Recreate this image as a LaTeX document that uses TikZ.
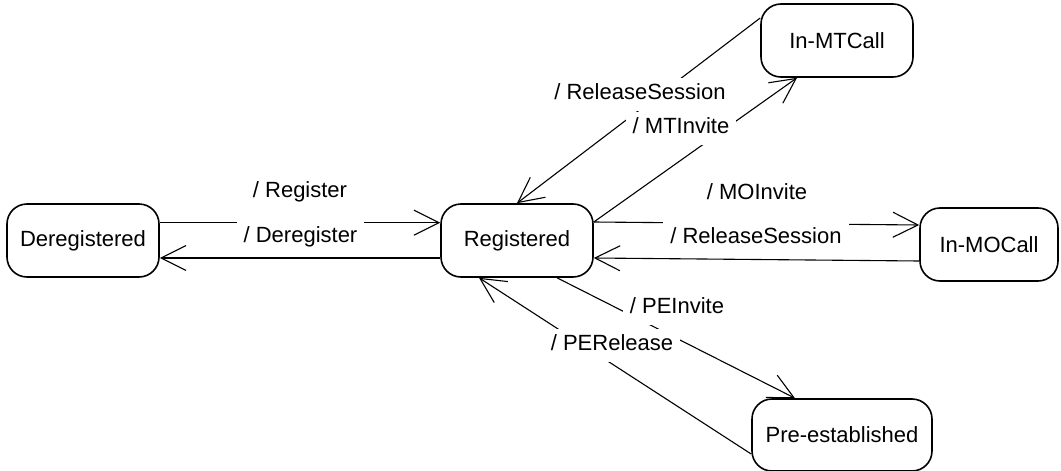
\documentclass[tikz,border=0pt]{standalone}
\usepackage{fontspec}
\setmainfont{Liberation Sans}
\usetikzlibrary{arrows.meta}
\begin{document}
\begin{tikzpicture}[x=1pt,y=-1pt,
  state/.style={draw, line width=1.6pt, rounded corners=20pt, minimum height=73pt, inner sep=0pt, font=\fontsize{22pt}{26pt}\selectfont},
  trans/.style={line width=1.1pt, -{Straight Barb[length=25pt,width=25pt]}},
  plain/.style={line width=1.1pt},
  lbl/.style={fill=white, inner xsep=7pt, inner ysep=6pt, text height=16pt, text depth=5pt, font=\fontsize{22pt}{26pt}\selectfont}]
\useasboundingbox (0,0) rectangle (1061,471);

\node[state, minimum width=152pt] (dereg) at (83,240.5) {Deregistered};
\node[state, minimum width=152pt] (reg) at (517,240.5) {Registered};
\node[state, minimum width=152pt] (mt) at (837,40.5) {In-MTCall};
\node[state, minimum width=138pt] (mo) at (989,244.5) {In-MOCall};
\node[state, minimum width=180pt, minimum height=72pt] (pe) at (842,435) {Pre-established};

% connectors
\draw[trans] ([yshift=17.8pt]dereg.east) -- ([yshift=17.8pt]reg.west);
\draw[trans] ([yshift=-17.5pt]reg.west) -- ([yshift=-17.5pt]dereg.east);
\draw[trans] ([yshift=18.5pt]reg.east) -- ([xshift=-40pt]mt.south);
\draw[trans] ([yshift=22.5pt]mt.west) -- (reg.north);
\draw[trans] ([yshift=18.5pt]reg.east) -- ([yshift=19.5pt]mo.west);
\draw[trans] ([yshift=-16.5pt]mo.west) -- ([yshift=-17.5pt]reg.east);
\draw[trans] ([xshift=40pt]reg.south) -- ([xshift=-47pt]pe.north);
\draw[trans] ([yshift=-19pt]pe.west) -- ([xshift=-38pt]reg.south);

% labels
\node[lbl] (lreg) at (300,192) {/ Register};
\node[lbl] (ldereg) at (300.5,237) {/ Deregister};
\node[lbl] (lmtrel) at (640,94) {/ ReleaseSession};
\node[lbl] (lmtinv) at (681,128) {/ MTInvite};
\node[lbl] (lmoinv) at (757,194) {/ MOInvite};
\node[lbl] (lmorel) at (756,238) {/ ReleaseSession};
\node[lbl] (lpeinv) at (677,308) {/ PEInvite};
\node[lbl] (lperel) at (612,345) {/ PERelease};
\end{tikzpicture}
\end{document}
